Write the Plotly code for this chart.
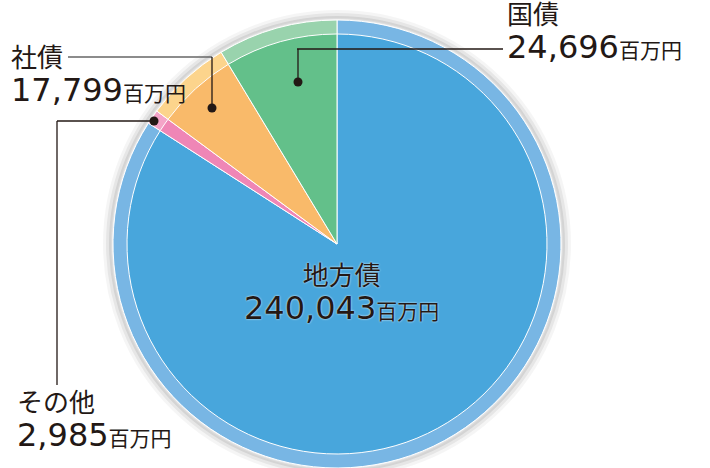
import plotly.graph_objects as go

W, H = 710, 468

categories = ["地方債", "その他", "社債", "国債"]
values = [240043, 2985, 17799, 24696]
value_labels = ["240,043", "2,985", "17,799", "24,696"]
unit = "百万円"
inner_colors = ["#48A6DC", "#EF86B6", "#F9BA6A", "#63C08A"]
outer_colors = ["#78B6E4", "#F4A4C8", "#FCD48C", "#99D3AD"]

cx, cy, R, r_in = 337, 244, 224, 210

def px(x):
    return x / W

def py(y):
    return 1 - y / H

fig = go.Figure()

fig.add_trace(go.Pie(
    labels=categories, values=values, sort=False, direction="clockwise",
    rotation=0, textinfo="none", hoverinfo="skip", showlegend=False,
    marker=dict(colors=outer_colors, line=dict(color="white", width=1)),
    domain=dict(x=[px(cx - R), px(cx + R)], y=[py(cy + R), py(cy - R)]),
))
fig.add_trace(go.Pie(
    labels=categories, values=values, sort=False, direction="clockwise",
    rotation=0, textinfo="none", hoverinfo="skip", showlegend=False,
    marker=dict(colors=inner_colors, line=dict(color="white", width=1)),
    domain=dict(x=[px(cx - r_in), px(cx + r_in)], y=[py(cy + r_in), py(cy - r_in)]),
))

shapes = []
# soft shadow rings around the pie
for rr, w, a in [(230, 8, 0.04), (228, 6, 0.06), (226, 4, 0.08)]:
    shapes.append(dict(type="circle", xref="paper", yref="paper", layer="below",
                       x0=px(cx - rr), x1=px(cx + rr), y0=py(cy + rr), y1=py(cy - rr),
                       line=dict(color=f"rgba(0,0,0,{a})", width=w)))

line_col = "#231815"
def seg(x0, y0, x1, y1, color=line_col, w=1.3):
    shapes.append(dict(type="line", xref="paper", yref="paper", layer="above",
                       x0=px(x0), y0=py(y0), x1=px(x1), y1=py(y1),
                       line=dict(color=color, width=w)))

def dot(x, y, r=4.5):
    shapes.append(dict(type="circle", xref="paper", yref="paper", layer="above",
                       x0=px(x - r), x1=px(x + r), y0=py(y + r), y1=py(y - r),
                       fillcolor=line_col, line=dict(width=0)))

# 国債 leader
seg(297, 49, 503, 49)
seg(298, 49, 298, 82)
dot(298, 82)
# 社債 leader
seg(68, 57, 212, 57, color="#666666")
seg(212, 57, 212, 108)
dot(212, 108)
# その他 leader
seg(154, 121, 57, 121)
seg(57, 121, 57, 385)
dot(154, 121)

fig.update_layout(shapes=shapes)

ann = []
font_family = "DejaVu Sans, Noto Sans CJK JP"

def label_text(name, num):
    return (f"{name}<br><span style='font-size:32px'>{num}</span>"
            f"<span style='font-size:21px'>{unit}</span>")

def label(name, num, x, y_mid, align="left", xanchor="left", shadow=None):
    f = dict(family=font_family, size=26, color="#231815")
    if shadow:
        f["shadow"] = shadow
    ann.append(dict(xref="paper", yref="paper", x=px(x), y=py(y_mid), xanchor=xanchor,
                    yanchor="middle", align=align, text=label_text(name, num),
                    showarrow=False, borderpad=0, font=f))

label(categories[3], value_labels[3], 506, 33)
label(categories[2], value_labels[2], 10, 76)
label(categories[1], value_labels[1], 16, 421)
label(categories[0], value_labels[0], 341, 294, align="center", xanchor="center",
      shadow="0 0 2px white")

fig.update_layout(
    annotations=ann,
    width=W, height=H,
    margin=dict(l=0, r=0, t=0, b=0),
    paper_bgcolor="white", plot_bgcolor="white",
)

fig.write_html("out.html", config={"displayModeBar": False},
               post_script="document.body.style.margin='0';document.body.style.overflow='hidden';")
